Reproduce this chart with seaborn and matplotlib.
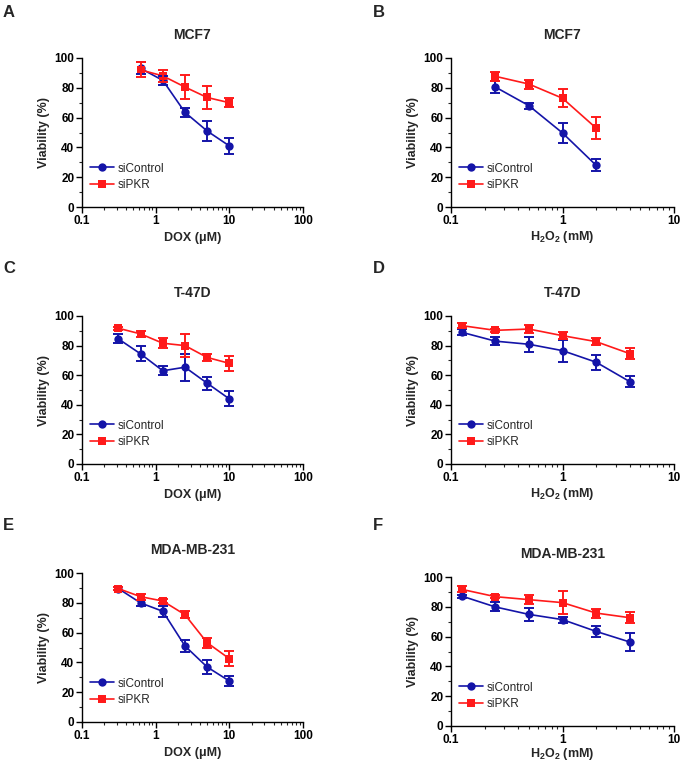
import numpy as np
import pandas as pd
import matplotlib
matplotlib.use("Agg")
import matplotlib.pyplot as plt
import matplotlib.ticker as mticker
import seaborn as sns

# doses
dox_a = [0.625, 1.25, 2.5, 5, 10]
dox_ce = [0.3125, 0.625, 1.25, 2.5, 5, 10]
h2o2_b = [0.25, 0.5, 1, 2]
h2o2_df = [0.125, 0.25, 0.5, 1, 2, 4]

# panel A - MCF7, DOX
a_ctrl = [93, 85, 63.5, 51, 41]
a_ctrl_err = [4, 3, 3, 7, 5.5]
a_pkr = [92, 88, 80.5, 73.5, 70]
a_pkr_err = [5, 4, 8, 8, 3]

# panel B - MCF7, H2O2
b_ctrl = [80.5, 68, 49.7, 28]
b_ctrl_err = [4, 2, 7, 4]
b_pkr = [87.7, 82.5, 73, 53]
b_pkr_err = [3, 3, 6, 7.5]

# panel C - T-47D, DOX
c_ctrl = [84.5, 74.4, 63, 65.4, 54.6, 44]
c_ctrl_err = [3, 5, 3, 9, 4.5, 5]
c_pkr = [91.7, 87.9, 81.6, 80, 72, 68]
c_pkr_err = [1, 2, 3.5, 8, 2.5, 5]

# panel D - T-47D, H2O2
d_ctrl = [89, 83, 80.9, 76.6, 68.8, 55.7]
d_ctrl_err = [2, 2.5, 5, 7.5, 5, 4]
d_pkr = [93.5, 90.3, 91.2, 86.7, 82.7, 74.6]
d_pkr_err = [1.5, 1, 2.5, 2.5, 2.5, 3.5]

# panel E - MDA-MB-231, DOX
e_ctrl = [89.5, 79.9, 74.3, 51, 36.9, 27.5]
e_ctrl_err = [1, 2, 3.5, 4, 4.5, 3.5]
e_pkr = [89.5, 84.1, 81.2, 72, 53.2, 42.5]
e_pkr_err = [1, 2, 1.5, 2.5, 3.5, 5]

# panel F - MDA-MB-231, H2O2
f_ctrl = [87.2, 79.9, 74.9, 71.4, 63.5, 56.4]
f_ctrl_err = [1, 3, 4.5, 2, 3.5, 6]
f_pkr = [91.7, 86.8, 84.8, 82.8, 75.8, 72.7]
f_pkr_err = [2, 1, 3, 7.5, 3, 3.5]

BLUE = "#1414a8"
RED = "#ff1a1a"

sns.set_style("ticks")
plt.rcParams['font.family'] = ['Liberation Sans', 'DejaVu Sans']
plt.rcParams['mathtext.fontset'] = 'custom'
plt.rcParams['mathtext.rm'] = 'Liberation Sans:bold'
plt.rcParams['mathtext.bf'] = 'Liberation Sans:bold'
plt.rcParams['mathtext.default'] = 'rm'
plt.rcParams['axes.linewidth'] = 1.0
plt.rcParams['xtick.major.width'] = 1.0
plt.rcParams['ytick.major.width'] = 1.0
plt.rcParams['xtick.minor.width'] = 0.8
plt.rcParams['ytick.minor.width'] = 0.8


def draw_panel(ax, dose, ctrl, ctrl_err, pkr, pkr_err, title, xlabel, xlim, xpad):
    df = pd.DataFrame({
        "dose": list(dose) * 2,
        "viab": list(ctrl) + list(pkr),
        "group": ["siControl"] * len(dose) + ["siPKR"] * len(dose),
    })
    sns.lineplot(data=df, x="dose", y="viab", hue="group", style="group",
                 markers={"siControl": "o", "siPKR": "s"}, dashes=False,
                 palette={"siControl": BLUE, "siPKR": RED},
                 markersize=6, markeredgewidth=0, linewidth=1.2, ax=ax)
    ax.errorbar(dose, ctrl, yerr=ctrl_err, fmt="none", ecolor=BLUE,
                elinewidth=1.4, capsize=3.5, capthick=1.4)
    ax.errorbar(dose, pkr, yerr=pkr_err, fmt="none", ecolor=RED,
                elinewidth=1.4, capsize=3.5, capthick=1.4)

    ax.set_xscale("log")
    ax.set_xlim(*xlim)
    ax.set_ylim(0, 100)
    ax.set_yticks([0, 20, 40, 60, 80, 100])
    ax.yaxis.set_minor_locator(mticker.MultipleLocator(10))
    ax.xaxis.set_major_formatter(mticker.FuncFormatter(lambda v, p: f"{v:g}"))
    ax.xaxis.set_minor_formatter(mticker.NullFormatter())
    ax.tick_params(axis="both", which="major", direction="out", length=4,
                   labelsize=8.5, pad=1.5, colors="black")
    ax.tick_params(axis="both", which="minor", direction="out", length=2.5)
    for lab in ax.get_xticklabels() + ax.get_yticklabels():
        lab.set_fontweight("bold")
    sns.despine(ax=ax)
    for s in ("left", "bottom"):
        ax.spines[s].set_color("black")

    ax.set_title(title, fontsize=10, fontweight="bold", pad=14)
    ax.set_xlabel(xlabel, fontsize=9, fontweight="bold", labelpad=xpad)
    ax.set_ylabel("Viability (%)", fontsize=9, fontweight="bold", labelpad=3)

    ax.legend(loc="lower left", bbox_to_anchor=(0.0, 0.05), frameon=False,
              fontsize=8.5, handlelength=2.0, handletextpad=0.3,
              labelspacing=0.4, borderaxespad=0.3)


fig = plt.figure(figsize=(6.83, 7.64), dpi=100)
W = 221 / 683
H = 149 / 764
ax_a = fig.add_axes([82 / 683, 1 - 207 / 764, W, H])
ax_b = fig.add_axes([451 / 683, 1 - 207 / 764, W + 2 / 683, H])
ax_c = fig.add_axes([82 / 683, 1 - 464 / 764, W, 148 / 764])
ax_d = fig.add_axes([451 / 683, 1 - 464 / 764, W + 2 / 683, 148 / 764])
ax_e = fig.add_axes([82 / 683, 1 - 722 / 764, W, H])
ax_f = fig.add_axes([451 / 683, 1 - 726 / 764, W + 2 / 683, H])

dox_label = "DOX (\u03bcM)"
h2o2_label = r"H$_2$O$_2$ (mM)"

draw_panel(ax_a, dox_a, a_ctrl, a_ctrl_err, a_pkr, a_pkr_err, "MCF7", dox_label, (0.1, 100), 4)
draw_panel(ax_b, h2o2_b, b_ctrl, b_ctrl_err, b_pkr, b_pkr_err, "MCF7", h2o2_label, (0.1, 10), 1.5)
draw_panel(ax_c, dox_ce, c_ctrl, c_ctrl_err, c_pkr, c_pkr_err, "T-47D", dox_label, (0.1, 100), 4)
draw_panel(ax_d, h2o2_df, d_ctrl, d_ctrl_err, d_pkr, d_pkr_err, "T-47D", h2o2_label, (0.1, 10), 1.5)
draw_panel(ax_e, dox_ce, e_ctrl, e_ctrl_err, e_pkr, e_pkr_err, "MDA-MB-231", dox_label, (0.1, 100), 4)
draw_panel(ax_f, h2o2_df, f_ctrl, f_ctrl_err, f_pkr, f_pkr_err, "MDA-MB-231", h2o2_label, (0.1, 10), 0.5)

# panel letters
letters = ["A", "B", "C", "D", "E", "F"]
letter_x = [3, 373, 3, 373, 3, 373]
letter_y = [5, 5, 261, 261, 518, 518]
for lt, lx, ly in zip(letters, letter_x, letter_y):
    fig.text(lx / 683, 1 - ly / 764, lt, fontsize=12, fontweight="bold",
             va="top", ha="left")

fig.savefig("out.png", dpi=100)
